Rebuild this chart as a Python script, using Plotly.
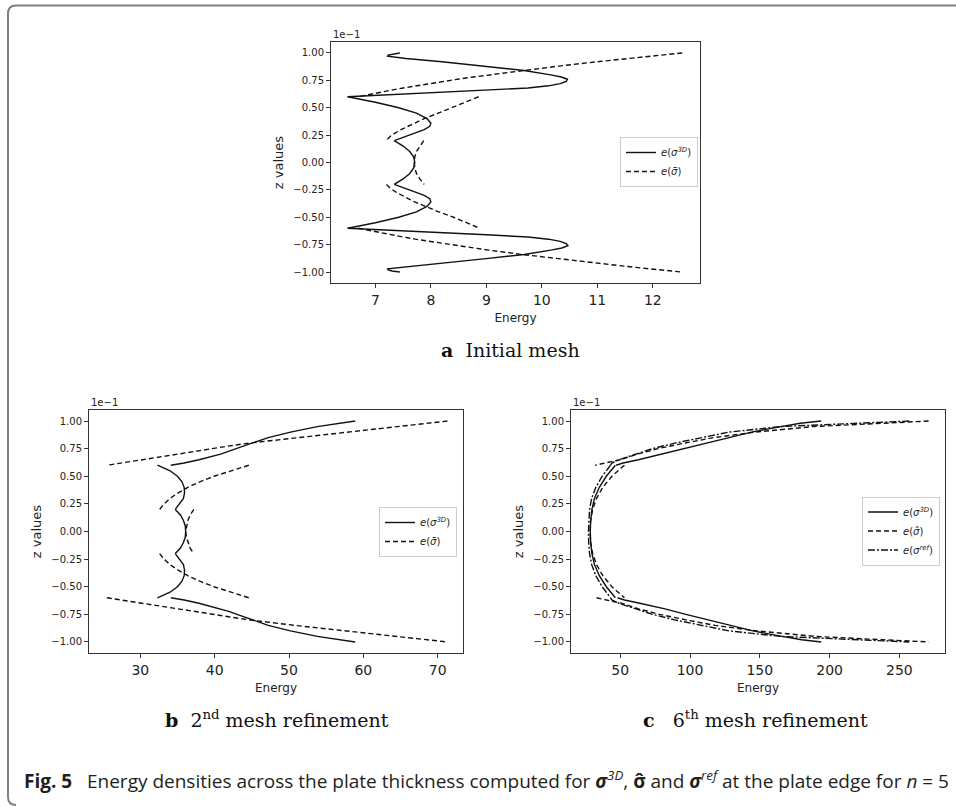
import plotly.graph_objects as go

# ---------------- panel a : initial mesh ----------------
a_z_top = [1.00, 0.99, 0.98, 0.97, 0.95, 0.92, 0.88, 0.84, 0.80, 0.78, 0.76, 0.74, 0.72, 0.70, 0.68, 0.66, 0.64, 0.62, 0.60]
a_3d_top = [7.44, 7.30, 7.23, 7.22, 7.55, 8.20, 8.95, 9.68, 10.16, 10.35, 10.46, 10.44, 10.33, 10.12, 9.75, 9.00, 8.20, 7.40, 6.50]
a_bar_top = [12.53, 12.33, 12.13, 11.93, 11.55, 11.00, 10.30, 9.65, 9.04, 8.76, 8.48, 8.22, 7.97, 7.72, 7.50, 7.28, 7.07, 6.88, 6.69]

a_z_mid = [0.60, 0.55, 0.50, 0.45, 0.40, 0.36, 0.33, 0.30, 0.27, 0.24, 0.20]
a_3d_mid = [6.50, 7.00, 7.42, 7.74, 7.93, 8.00, 7.98, 7.88, 7.72, 7.56, 7.34]
a_bar_mid = [8.86, 8.62, 8.40, 8.13, 7.88, 7.70, 7.58, 7.46, 7.36, 7.27, 7.19]

a_z_core = [0.20, 0.15, 0.10, 0.05, 0.00, -0.05, -0.10, -0.15, -0.20]
a_3d_core = [7.34, 7.50, 7.62, 7.69, 7.71, 7.69, 7.62, 7.50, 7.34]
a_bar_core = [7.87, 7.80, 7.74, 7.71, 7.70, 7.71, 7.74, 7.80, 7.88]

a_z_lmid = [-0.20, -0.24, -0.27, -0.30, -0.33, -0.36, -0.40, -0.45, -0.50, -0.55, -0.60]
a_3d_lmid = [7.34, 7.56, 7.72, 7.88, 7.98, 8.00, 7.93, 7.74, 7.42, 7.00, 6.50]
a_bar_lmid = [7.20, 7.28, 7.37, 7.47, 7.59, 7.71, 7.89, 8.14, 8.41, 8.64, 8.88]

a_z_bot = [-0.60, -0.62, -0.64, -0.66, -0.68, -0.70, -0.72, -0.74, -0.76, -0.78, -0.80, -0.84, -0.88, -0.92, -0.95, -0.97, -0.98, -0.99, -1.00]
a_3d_bot = [6.50, 7.40, 8.20, 9.00, 9.75, 10.12, 10.33, 10.44, 10.47, 10.36, 10.16, 9.68, 8.95, 8.20, 7.55, 7.22, 7.23, 7.30, 7.44]
a_bar_bot = [6.69, 6.88, 7.07, 7.28, 7.50, 7.72, 7.97, 8.22, 8.48, 8.76, 9.04, 9.65, 10.30, 11.00, 11.55, 11.93, 12.13, 12.33, 12.53]

# ---------------- panel b : 2nd refinement ----------------
b_z_top = [1.00, 0.95, 0.90, 0.85, 0.80, 0.775, 0.75, 0.725, 0.70, 0.65, 0.62, 0.60]
b_3d_top = [58.9, 53.8, 50.2, 47.2, 45.0, 44.0, 43.0, 42.0, 40.8, 37.9, 35.9, 34.1]
b_bar_top = [71.3, 64.5, 57.5, 50.8, 44.6, 42.0, 39.5, 37.2, 35.0, 30.3, 27.4, 25.5]

b_z_mid = [0.60, 0.55, 0.50, 0.45, 0.40, 0.35, 0.30, 0.25, 0.20]
b_3d_mid = [32.3, 34.0, 35.0, 35.6, 35.9, 35.95, 35.8, 35.3, 34.7]
b_bar_mid = [44.6, 42.2, 39.9, 38.0, 36.4, 35.1, 34.0, 33.2, 32.6]

b_z_core = [0.20, 0.15, 0.10, 0.05, 0.00, -0.05, -0.10, -0.15, -0.20]
b_3d_core = [34.7, 35.4, 35.8, 36.05, 36.1, 36.05, 35.8, 35.4, 34.7]
b_bar_core = [37.2, 36.7, 36.4, 36.2, 36.1, 36.2, 36.4, 36.7, 37.2]

b_z_lmid = [-0.20, -0.25, -0.30, -0.35, -0.40, -0.45, -0.50, -0.55, -0.60]
b_3d_lmid = [34.7, 35.3, 35.8, 35.95, 35.9, 35.6, 35.0, 34.0, 32.3]
b_bar_lmid = [32.6, 33.2, 34.0, 35.1, 36.4, 38.0, 39.9, 42.2, 44.6]

b_z_bot = [-0.60, -0.62, -0.65, -0.70, -0.725, -0.75, -0.775, -0.80, -0.85, -0.90, -0.95, -1.00]
b_3d_bot = [34.1, 35.9, 37.9, 40.8, 42.0, 43.0, 44.0, 45.0, 47.2, 50.2, 53.8, 58.9]
b_bar_bot = [25.5, 27.4, 30.3, 35.0, 37.2, 39.5, 42.0, 44.6, 50.8, 57.5, 64.5, 71.3]

# ---------------- panel c : 6th refinement ----------------
c_z_top = [1.00, 0.98, 0.95, 0.90, 0.85, 0.80, 0.75, 0.70, 0.65, 0.62, 0.60]
c_3d_top = [194, 179, 165, 144, 128, 112, 96, 81, 63, 52, 47]
c_bar_top = [271, 236, 188, 147, 117, 96, 77, 62, 50, 39, 32]
c_ref_top = [257, 222, 165, 128, 108, 89, 73, 61, 49, 44, 43]

c_z_in = [0.60, 0.50, 0.40, 0.30, 0.20, 0.10, 0.00, -0.10, -0.20, -0.30, -0.40, -0.50, -0.60]
c_3d_in = [46.5, 40.0, 35.0, 31.5, 29.7, 28.8, 28.5, 28.8, 29.7, 31.5, 35.0, 40.0, 46.5]
c_bar_in = [53.0, 44.0, 37.5, 33.0, 30.2, 28.8, 28.3, 28.8, 30.2, 33.0, 37.5, 44.0, 53.0]
c_ref_in = [43.0, 37.0, 32.5, 29.5, 28.0, 27.4, 27.2, 27.4, 28.0, 29.5, 32.5, 37.0, 43.0]

c_z_bot = [-0.60, -0.62, -0.65, -0.70, -0.75, -0.80, -0.85, -0.90, -0.95, -0.98, -1.00]
c_3d_bot = [48, 53, 64, 82, 97, 113, 129, 145, 166, 180, 194]
c_bar_bot = [33, 40, 51, 63, 78, 97, 118, 148, 190, 238, 271]
c_ref_bot = [43, 44, 49, 61, 73, 89, 108, 128, 165, 222, 257]

z_ticks = [-1.0, -0.75, -0.5, -0.25, 0.0, 0.25, 0.5, 0.75, 1.0]


def join(zs, es):
    x, y = [], []
    for z, e in zip(zs, es):
        x += list(e) + [None]
        y += list(z) + [None]
    return x, y


a_z = [a_z_top, a_z_mid, a_z_core, a_z_lmid, a_z_bot]
b_z = [b_z_top, b_z_mid, b_z_core, b_z_lmid, b_z_bot]
c_z = [c_z_top, c_z_in, c_z_bot]

L3D = "<i>e</i>(<i>σ</i><sup><i>3D</i></sup>)"
LBAR = "<i>e</i>(<i>σ̄</i>)"
LHAT = "<i>e</i>(<i>σ̂</i>)"
LREF = "<i>e</i>(<i>σ</i><sup><i>ref</i></sup>)"

series = [
    ("x", "y", "legend", a_z, [a_3d_top, a_3d_mid, a_3d_core, a_3d_lmid, a_3d_bot], L3D, "solid"),
    ("x", "y", "legend", a_z, [a_bar_top, a_bar_mid, a_bar_core, a_bar_lmid, a_bar_bot], LBAR, "5px,3px"),
    ("x2", "y2", "legend2", b_z, [b_3d_top, b_3d_mid, b_3d_core, b_3d_lmid, b_3d_bot], L3D, "solid"),
    ("x2", "y2", "legend2", b_z, [b_bar_top, b_bar_mid, b_bar_core, b_bar_lmid, b_bar_bot], LBAR, "5px,3px"),
    ("x3", "y3", "legend3", c_z, [c_3d_top, c_3d_in, c_3d_bot], L3D, "solid"),
    ("x3", "y3", "legend3", c_z, [c_bar_top, c_bar_in, c_bar_bot], LHAT, "5px,3px"),
    ("x3", "y3", "legend3", c_z, [c_ref_top, c_ref_in, c_ref_bot], LREF, "7px,2px,2px,2px"),
]

fig = go.Figure()
for xa, ya, leg, zs, es, name, dash in series:
    x, y = join(zs, es)
    fig.add_trace(go.Scatter(x=x, y=y, xaxis=xa, yaxis=ya, legend=leg, name=name,
                             mode="lines", line=dict(color="#111111", width=1.4, dash=dash)))

W, H = 956, 806
def px(v): return v / W
def py(v): return 1 - v / H

axis_common = dict(showline=True, mirror=True, linecolor="#333333", linewidth=1,
                   ticks="outside", ticklen=4, tickcolor="#333333", showgrid=False,
                   zeroline=False, tickfont=dict(family="DejaVu Sans", size=14, color="#222"))

def xax(dom, rng, dt, anchor):
    return dict(axis_common, domain=dom, range=rng, dtick=dt, anchor=anchor,
                title=dict(text="Energy", font=dict(family="DejaVu Sans", size=12, color="#222"), standoff=6))

def yax(dom, anchor):
    d = dict(axis_common, domain=dom, range=[-1.1, 1.1], tickvals=z_ticks, tickformat=".2f", anchor=anchor,
             title=dict(text="z values", font=dict(family="DejaVu Sans", size=13, color="#222"), standoff=6))
    d["tickfont"] = dict(family="DejaVu Sans", size=10, color="#222")
    return d

leg_common = dict(bgcolor="white", bordercolor="#cccccc", borderwidth=1, xanchor="right", yanchor="middle",
                  font=dict(family="DejaVu Sans", size=10, color="#222"), itemwidth=30, tracegroupgap=0)

fig.update_layout(
    width=W, height=H, margin=dict(l=0, r=0, t=0, b=0),
    paper_bgcolor="white", plot_bgcolor="white",
    xaxis=xax([px(331), px(700)], [6.2, 12.85], 1, "y"),
    yaxis=yax([py(283), py(42)], "x"),
    xaxis2=xax([px(89), px(463)], [23.1, 73.4], 10, "y2"),
    yaxis2=yax([py(653), py(410)], "x2"),
    xaxis3=xax([px(571), px(945)], [14.7, 282.7], 50, "y3"),
    yaxis3=yax([py(653), py(410)], "x3"),
    legend=dict(leg_common, x=px(698), y=py(162)),
    legend2=dict(leg_common, x=px(457), y=py(532)),
    legend3=dict(leg_common, x=px(940), y=py(531)),
)

# offset text of the y axes
for xr, yr in [("x", "y"), ("x2", "y2"), ("x3", "y3")]:
    fig.add_annotation(text="1e\u22121", xref=xr + " domain", yref=yr + " domain", x=0, y=1,
                       xanchor="left", yanchor="bottom", showarrow=False,
                       font=dict(family="DejaVu Sans", size=10, color="#222"))

serif = dict(family="DejaVu Serif", size=19, color="#111")
fig.add_annotation(text="<b>a</b>  Initial mesh", x=px(511), y=py(350), xref="paper", yref="paper",
                   xanchor="center", yanchor="middle", showarrow=False, font=serif)
fig.add_annotation(text="<b>b</b>  2<sup>nd</sup> mesh refinement", x=px(277), y=py(719), xref="paper", yref="paper",
                   xanchor="center", yanchor="middle", showarrow=False, font=serif)
fig.add_annotation(text="<b>c</b>   6<sup>th</sup> mesh refinement", x=px(755), y=py(719), xref="paper", yref="paper",
                   xanchor="center", yanchor="middle", showarrow=False, font=serif)

fig.add_annotation(
    text="<b>Fig. 5</b>   Energy densities across the plate thickness computed for <b><i>σ</i></b><sup><i>3D</i></sup>, "
         "<b>σ̂</b> and <b><i>σ</i></b><sup><i>ref</i></sup> at the plate edge for <i>n</i> = 5",
    x=px(22), y=py(780), xref="paper", yref="paper", xanchor="left", yanchor="middle", showarrow=False,
    font=dict(family="Open Sans", size=19, color="#231f20"))

# frame around the figure
xl, xr_, yt, yb = px(8), px(16), py(5.5), py(13.5)
fig.add_shape(type="path", xref="paper", yref="paper",
              path=f"M 1.0,{yt} L {xr_},{yt} Q {xl},{yt} {xl},{yb} L {xl},{py(797)} Q {xl},{py(805)} {xr_},{py(805)}",
              line=dict(color="#808080", width=2))

fig.write_html("out.html", config={"displayModeBar": False},
               post_script="document.body.style.margin='0';document.body.style.overflow='hidden';")
